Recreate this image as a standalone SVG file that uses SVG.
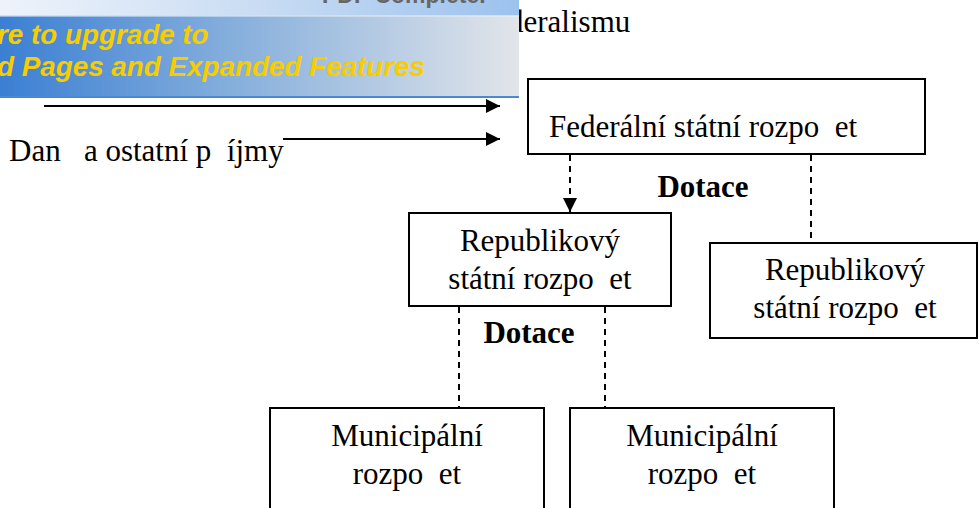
<svg xmlns="http://www.w3.org/2000/svg" width="979" height="508" viewBox="0 0 979 508">
  <defs>
    <linearGradient id="band" x1="0" y1="0" x2="1" y2="0">
      <stop offset="0" stop-color="#3b7fd3"/>
      <stop offset="0.45" stop-color="#86afdc"/>
      <stop offset="1" stop-color="#e2e5ea"/>
    </linearGradient>
    <linearGradient id="strip" x1="0" y1="0" x2="1" y2="0">
      <stop offset="0" stop-color="#eef3fb"/>
      <stop offset="0.5" stop-color="#c9dcf3"/>
      <stop offset="1" stop-color="#9cc2ee"/>
    </linearGradient>
    <marker id="arrow" viewBox="0 0 10 10" refX="10" refY="5" markerWidth="15" markerHeight="14" markerUnits="userSpaceOnUse" orient="auto">
      <path d="M0,0 L10,5 L0,10 z" fill="#000"/>
    </marker>
  </defs>
  <style>
    .t { font-family: "Liberation Serif", "Times New Roman", serif; font-size: 31px; fill: #000; white-space: pre; }
    .b { font-family: "Liberation Serif", "Times New Roman", serif; font-size: 31px; font-weight: bold; fill: #000; }
    .box { fill: #fff; stroke: #000; stroke-width: 2; }
    .dash { fill: none; stroke: #000; stroke-width: 2; stroke-dasharray: 6 5; }
    .solid { fill: none; stroke: #000; stroke-width: 2; }
    .ban { font-family: "Liberation Sans", Arial, sans-serif; font-size: 27.8px; font-weight: bold; font-style: italic; fill: #f7cd00; }
  </style>
  <rect width="979" height="508" fill="#fff"/>

  <text class="t" x="508" y="32">deralismu</text>

  <g id="banner">
    <rect x="0" y="0" width="519" height="15" fill="url(#strip)"/>
    <text x="322" y="3" font-family="Liberation Sans, Arial, sans-serif" font-size="23" font-weight="bold" fill="#666">PDF Complete.</text>
    <rect x="0" y="15" width="519" height="1.5" fill="#d4e0ee"/>
    <rect x="0" y="16.5" width="519" height="80" fill="url(#band)"/>
    <rect x="0" y="96" width="519" height="2" fill="#4a88d2"/>
    <text class="ban" x="-3" y="44">re to upgrade to</text>
    <text class="ban" x="-3" y="76">d Pages and Expanded Features</text>
  </g>

  <g id="connectors">
    <line class="solid" x1="44" y1="106" x2="500" y2="106" marker-end="url(#arrow)"/>
    <line class="solid" x1="283" y1="139" x2="500" y2="139" marker-end="url(#arrow)"/>
    <line class="dash" x1="570" y1="155" x2="570" y2="212" marker-end="url(#arrow)"/>
    <line class="dash" x1="811" y1="155" x2="811" y2="243"/>
    <line class="dash" x1="459" y1="307" x2="459" y2="408"/>
    <line class="dash" x1="605" y1="307" x2="605" y2="408"/>
  </g>

  <g id="income">
    <text class="t" x="9" y="161">Dan   a ostatní p  íjmy</text>
  </g>

  <g id="federal">
    <rect class="box" x="528" y="79" width="397" height="75"/>
    <text class="t" x="549" y="137">Federální státní rozpo  et</text>
  </g>

  <g id="dotace-top">
    <text class="b" x="703" y="197" text-anchor="middle">Dotace</text>
  </g>

  <g id="rep-left">
    <rect class="box" x="409" y="213" width="262" height="93"/>
    <text class="t" x="540" y="251" text-anchor="middle">Republikový</text>
    <text class="t" x="540" y="289" text-anchor="middle">státní rozpo  et</text>
  </g>

  <g id="rep-right">
    <rect class="box" x="710" y="243" width="267" height="95"/>
    <text class="t" x="845" y="280" text-anchor="middle">Republikový</text>
    <text class="t" x="845" y="318" text-anchor="middle">státní rozpo  et</text>
  </g>

  <g id="dotace-bottom">
    <text class="b" x="529" y="343" text-anchor="middle">Dotace</text>
  </g>

  <g id="mun-1">
    <rect class="box" x="270" y="408" width="274" height="120"/>
    <text class="t" x="407" y="446" text-anchor="middle">Municipální</text>
    <text class="t" x="407" y="484" text-anchor="middle">rozpo  et</text>
  </g>

  <g id="mun-2">
    <rect class="box" x="570" y="408" width="264" height="120"/>
    <text class="t" x="702" y="446" text-anchor="middle">Municipální</text>
    <text class="t" x="702" y="484" text-anchor="middle">rozpo  et</text>
  </g>
</svg>
